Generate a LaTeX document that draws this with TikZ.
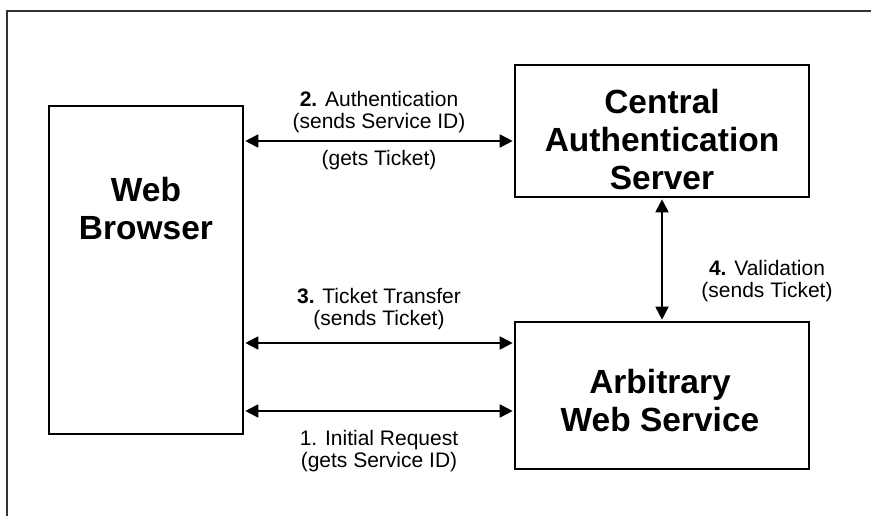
\documentclass[tikz,border=0pt]{standalone}
\usepackage{fontspec}
\setmainfont{Liberation Sans}
\usetikzlibrary{arrows.meta}
\begin{document}
\begin{tikzpicture}[x=1pt,y=-1pt,
  box/.style={draw=black,line width=2.6pt,inner sep=0pt},
  boxtext/.style={font=\fontsize{33.5}{38}\selectfont\bfseries,align=center,inner sep=0pt},
  lbl/.style={font=\fontsize{21}{22.5}\selectfont,align=center,inner sep=0pt},
  arr/.style={line width=1.8pt,{Triangle[length=13pt,width=13pt]}-{Triangle[length=13pt,width=13pt]},shorten <=1pt,shorten >=1pt},
  frame/.style={draw=black!80,line width=2pt}]
\useasboundingbox (0,0) rectangle (871,516);
% frame
\coordinate (f0) at (7,516);
\coordinate (f1) at (7,11);
\coordinate (f2) at (871,11);
\draw[frame] (f0) -- (f1) -- (f2);
% boxes
\node[box,minimum width=194pt,minimum height=328pt] (wb) at (146,270) {};
\node[boxtext] (wbt) at (146,209) {Web\\Browser};
\node[box,minimum width=294pt,minimum height=132pt] (cas) at (662,131) {};
\node[boxtext] (cast) at (662,140) {Central\\Authentication\\Server};
\node[box,minimum width=294pt,minimum height=147pt] (aws) at (662,395.5) {};
\node[boxtext] (awst) at (660,401) {Arbitrary\\Web Service};
% arrow rows
\coordinate (y2) at (0,141);
\coordinate (y3) at (0,343);
\coordinate (y1) at (0,411);
\draw[arr] (wb.east |- y2) -- (cas.west |- y2);
\draw[arr] (wb.east |- y3) -- (aws.west |- y3);
\draw[arr] (wb.east |- y1) -- (aws.west |- y1);
\draw[arr] (cas.south) -- (aws.north);
% labels
\node[lbl] (l2a) at (379,112) {\textbf{2.} Authentication\\(sends Service ID)};
\node[lbl] (l2b) at (379,160) {(gets Ticket)};
\node[lbl] (l3) at (379,309) {\textbf{3.} Ticket Transfer\\(sends Ticket)};
\node[lbl] (l1) at (379,451) {1. Initial Request\\(gets Service ID)};
\node[lbl] (l4) at (767,281) {\textbf{4.} Validation\\(sends Ticket)};
\end{tikzpicture}
\end{document}
